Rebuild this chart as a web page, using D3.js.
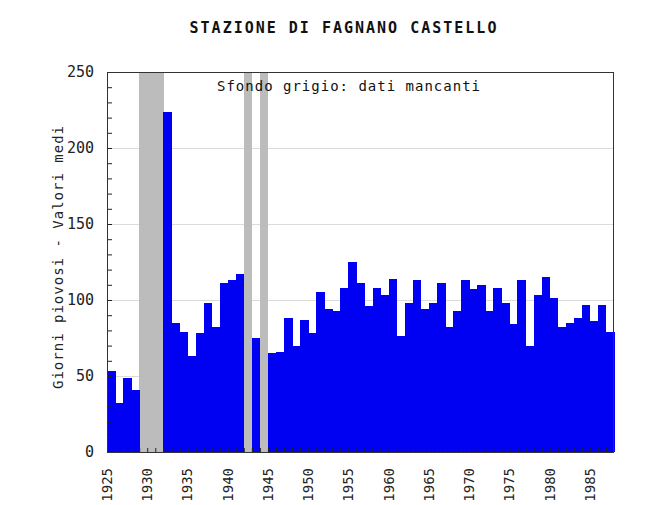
<!DOCTYPE html>
<html>
<head>
<meta charset="utf-8">
<script src="https://cdn.jsdelivr.net/npm/d3@7"></script>
<style>
  body { margin: 0; background: #fff; }
  text { font-family: "DejaVu Sans Mono", monospace; }
</style>
</head>
<body>
<script>
const years = [1925, 1926, 1927, 1928, 1929, 1930, 1931, 1932, 1933, 1934,
               1935, 1936, 1937, 1938, 1939, 1940, 1941, 1942, 1943, 1944,
               1945, 1946, 1947, 1948, 1949, 1950, 1951, 1952, 1953, 1954,
               1955, 1956, 1957, 1958, 1959, 1960, 1961, 1962, 1963, 1964,
               1965, 1966, 1967, 1968, 1969, 1970, 1971, 1972, 1973, 1974,
               1975, 1976, 1977, 1978, 1979, 1980, 1981, 1982, 1983, 1984,
               1985, 1986, 1987];
// null = dati mancanti
const rainyDays = [53, 32, 49, 41, null, null, null, 224, 85, 79,
                   63, 78, 98, 82, 111, 113, 117, null, 75, null,
                   65, 66, 88, 70, 87, 78, 105, 94, 93, 108,
                   125, 111, 96, 108, 103, 114, 76, 98, 113, 94,
                   98, 111, 82, 93, 113, 107, 110, 93, 108, 98,
                   84, 113, 70, 103, 115, 101, 82, 85, 88, 97,
                   86, 97, 79];
const yearLabels = [1925, 1930, 1935, 1940, 1945, 1950, 1955, 1960, 1965, 1970, 1975, 1980, 1985];
const yLabels = [0, 50, 100, 150, 200, 250];
const gridValues = [50, 100, 150, 200];

const margin = { top: 72, right: 51, bottom: 53, left: 107 },
      width = 665 - margin.left - margin.right,
      height = 505 - margin.top - margin.bottom;

const svg = d3.select("body").append("svg")
    .attr("width", 665)
    .attr("height", 505);

const g = svg.append("g")
    .attr("transform", `translate(${margin.left},${margin.top})`);

const x = d3.scaleLinear()
    .domain([years[0], years[years.length - 1] + 1])
    .range([0, width]);

const y = d3.scaleLinear()
    .domain([0, 250])
    .range([height, 0]);

const data = years.map((yr, i) => ({ year: yr, value: rainyDays[i] }));

// griglia
g.append("g")
  .selectAll("line")
  .data(gridValues)
  .enter().append("line")
    .attr("x1", 0)
    .attr("x2", width)
    .attr("y1", d => Math.round(y(d)) + 0.5)
    .attr("y2", d => Math.round(y(d)) + 0.5)
    .attr("stroke", "#dcdcdc");

// anni mancanti
g.append("g")
  .attr("shape-rendering", "crispEdges")
  .selectAll("rect")
  .data(data.filter(d => d.value === null))
  .enter().append("rect")
    .attr("x", d => x(d.year))
    .attr("width", d => x(d.year + 1) - x(d.year) + 0.5)
    .attr("y", 0)
    .attr("height", height)
    .attr("fill", "#bcbcbc");

// barre
g.append("g")
  .attr("shape-rendering", "crispEdges")
  .selectAll("rect")
  .data(data.filter(d => d.value !== null))
  .enter().append("rect")
    .attr("x", d => x(d.year))
    .attr("width", d => x(d.year + 1) - x(d.year) + 0.5)
    .attr("y", d => y(d.value))
    .attr("height", d => height - y(d.value))
    .attr("fill", "#0000f2");

// asse y: tacche interne ogni 10
g.append("g")
    .call(d3.axisRight(y).tickValues(d3.range(0, 251, 10)).tickSize(5).tickFormat(""))
    .call(a => a.select(".domain").remove())
    .selectAll("line").attr("stroke", "#222");

g.append("g")
  .selectAll("text")
  .data(yLabels)
  .enter().append("text")
    .attr("x", -13)
    .attr("y", d => y(d) + 5)
    .attr("text-anchor", "end")
    .attr("font-size", 15)
    .attr("fill", "#222")
    .text(d => d);

// asse x: tacche interne ogni anno
g.append("g")
    .attr("transform", `translate(0,${height})`)
    .call(d3.axisTop(x).tickValues(years).tickSize(4).tickFormat(""))
    .call(a => a.select(".domain").remove())
    .selectAll("line").attr("stroke", "#222");

g.append("g")
  .selectAll("text")
  .data(yearLabels)
  .enter().append("text")
    .attr("transform", d => `translate(${x(d) + 5},${height + 16}) rotate(-90)`)
    .attr("text-anchor", "end")
    .attr("font-size", 14)
    .attr("fill", "#222")
    .text(d => d);

// bordo
g.append("rect")
    .attr("x", 0.5)
    .attr("y", 0.5)
    .attr("width", width - 1)
    .attr("height", height)
    .attr("fill", "none")
    .attr("stroke", "#333");

g.append("text")
    .attr("x", 110)
    .attr("y", 19)
    .attr("font-size", 14)
    .attr("letter-spacing", 1)
    .attr("fill", "#111")
    .text("Sfondo grigio: dati mancanti");

svg.append("text")
    .attr("x", 344)
    .attr("y", 33)
    .attr("text-anchor", "middle")
    .attr("font-size", 15)
    .attr("font-weight", "bold")
    .attr("letter-spacing", 2)
    .attr("fill", "#111")
    .text("STAZIONE DI FAGNANO CASTELLO");

svg.append("text")
    .attr("transform", `translate(63,${margin.top + height / 2 - 5}) rotate(-90)`)
    .attr("text-anchor", "middle")
    .attr("font-size", 14)
    .attr("letter-spacing", 1)
    .attr("fill", "#222")
    .text("Giorni piovosi - Valori medi");
</script>
</body>
</html>
